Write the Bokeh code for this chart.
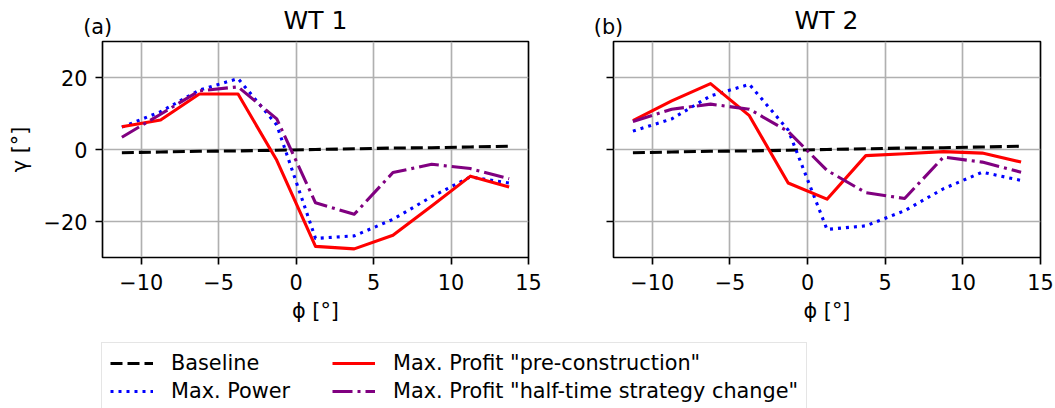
from bokeh.plotting import figure
from bokeh.models import (Range1d, FixedTicker, CustomJSTickFormatter, Label,
                          Legend, LegendItem)
from bokeh.layouts import column, row
from bokeh.embed import file_html
from bokeh.resources import INLINE

# ---------------- data ----------------
phi = [-11.25, -8.75, -6.25, -3.75, -1.25, 1.25, 3.75, 6.25, 8.75, 11.25, 13.75]

wt1_baseline = [-0.9, -0.7, -0.5, -0.4, -0.2, 0.0, 0.2, 0.4, 0.5, 0.7, 0.9]
wt1_maxpower = [6.2, 10.5, 16.5, 19.7, 6.8, -24.7, -24.0, -19.4, -13.1, -7.6, -9.3]
wt1_preconst = [6.3, 8.2, 15.4, 15.4, -3.0, -26.9, -27.6, -23.8, -15.7, -7.4, -10.4]
wt1_halftime = [3.4, 9.8, 16.3, 17.4, 8.5, -14.8, -18.0, -6.4, -4.1, -5.3, -8.1]

wt2_baseline = [-0.9, -0.7, -0.5, -0.4, -0.2, 0.0, 0.2, 0.4, 0.5, 0.7, 0.9]
wt2_maxpower = [5.1, 8.5, 14.9, 18.1, 5.4, -22.2, -21.2, -17.0, -10.9, -6.3, -8.6]
wt2_preconst = [8.0, 13.5, 18.3, 9.4, -9.3, -13.8, -1.7, -1.2, -0.6, -1.0, -3.5]
wt2_halftime = [7.8, 11.2, 12.6, 11.2, 5.0, -5.8, -12.0, -13.6, -2.1, -3.5, -6.3]

series_labels = ["Baseline", "Max. Power", 'Max. Profit "pre-construction"',
                 'Max. Profit "half-time strategy change"']
titles = ["WT 1", "WT 2"]
panel_tags = ["(a)", "(b)"]
x_ticks = [-10, -5, 0, 5, 10, 15]
y_ticks = [-20, 0, 20]

# ---------------- style ----------------
FONT = "DejaVu Sans"
FS = "20.8px"
TXT = "black"
styles = [
    dict(line_color="black", line_dash="12 5"),
    dict(line_color="blue", line_dash="3 5"),
    dict(line_color="red", line_dash="solid"),
    dict(line_color="purple", line_dash="20 5 3 5"),
]
LW = 3.1

minus_fmt = CustomJSTickFormatter(code="return String(tick).replace('-', '\\u2212');")


def make_panel(series, width, bl, br, show_ylab):
    p = figure(width=width, height=287, output_backend="svg", toolbar_location=None,
               title=None,
               x_range=Range1d(-12.5, 15), y_range=Range1d(-30, 30),
               min_border_left=bl, min_border_right=br,
               min_border_top=3, min_border_bottom=67)
    p.background_fill_color = "white"
    p.border_fill_color = "white"
    p.outline_line_color = "black"
    p.outline_line_width = 1.67

    for ax in (p.xaxis[0], p.yaxis[0]):
        ax.axis_line_color = None
        ax.major_tick_out = 7
        ax.major_tick_in = 0
        ax.minor_tick_out = 0
        ax.minor_tick_in = 0
        ax.major_tick_line_width = 1.67
        ax.major_tick_line_color = "black"
        ax.major_label_text_font = FONT
        ax.major_label_text_font_size = FS
        ax.major_label_text_color = TXT
        ax.axis_label_text_font = FONT
        ax.axis_label_text_font_size = FS
        ax.axis_label_text_font_style = "normal"
        ax.axis_label_text_color = TXT

    p.xaxis.ticker = FixedTicker(ticks=x_ticks)
    p.xaxis.formatter = minus_fmt
    p.xaxis.major_label_standoff = 9
    p.xaxis.axis_label = "\u03d5 [\u00b0]"
    p.xaxis.axis_label_standoff = 6

    p.yaxis.ticker = FixedTicker(ticks=y_ticks)
    if show_ylab:
        p.yaxis.formatter = minus_fmt
        p.yaxis.axis_label = "\u03b3 [\u00b0]"
        p.yaxis.major_label_standoff = 8
        p.yaxis.axis_label_standoff = 9
    else:
        p.yaxis.formatter = CustomJSTickFormatter(code="return '';")

    p.grid.grid_line_color = "#b0b0b0"
    p.grid.grid_line_width = 1.67

    for ys, st in zip(series, styles):
        p.line(phi, ys, line_width=LW, line_join="round", **st)
    return p


p1 = make_panel([wt1_baseline, wt1_maxpower, wt1_preconst, wt1_halftime],
                560, 102, 32, True)
p2 = make_panel([wt2_baseline, wt2_maxpower, wt2_preconst, wt2_halftime],
                495, 53, 15, False)

# ---------------- header strip (panel titles) ----------------
HEAD_H = 38
head = figure(width=1055, height=HEAD_H, output_backend="svg", toolbar_location=None,
              x_range=Range1d(0, 1055), y_range=Range1d(0, HEAD_H), min_border=0)
head.axis.visible = False
head.grid.visible = False
head.outline_line_color = None
head.background_fill_color = "white"
head.border_fill_color = "white"
for xc, txt in zip([315, 826], titles):
    head.add_layout(Label(x=xc, y=HEAD_H - 19.5, text=txt, text_font=FONT,
                          text_font_size="25px", text_align="center",
                          text_baseline="middle", text_color=TXT))
for xl, txt in zip([82.7, 593.3], panel_tags):
    head.add_layout(Label(x=xl, y=HEAD_H - 26.8, text=txt, text_font=FONT,
                          text_font_size=FS, text_align="left",
                          text_baseline="middle", text_color=TXT))

# ---------------- legend strip ----------------
pleg = figure(width=1055, height=83, output_backend="svg", toolbar_location=None,
              x_range=Range1d(100, 101), y_range=Range1d(100, 101), min_border=0)
pleg.axis.visible = False
pleg.grid.visible = False
pleg.outline_line_color = None
pleg.background_fill_color = "white"
pleg.border_fill_color = "white"

items = []
for lab, ys, st in zip(series_labels,
                       [wt1_baseline, wt1_maxpower, wt1_preconst, wt1_halftime],
                       styles):
    r = pleg.line(phi, ys, line_width=LW, **st)
    items.append(LegendItem(label=lab, renderers=[r]))

legend = Legend(items=items, ncols=2, orientation="vertical",
                location=(101, -4),
                label_text_font=FONT, label_text_font_size=FS,
                label_text_color=TXT,
                glyph_width=43, glyph_height=20, label_standoff=18,
                label_width=157, label_height=20, spacing=4, padding=8, margin=0,
                border_line_color="#cccccc", border_line_width=1.6,
                background_fill_color="white", background_fill_alpha=0.8)
pleg.add_layout(legend, "center")

layout = column(head, row(p1, p2), pleg)

open("out.html", "w").write(file_html(layout, INLINE))
